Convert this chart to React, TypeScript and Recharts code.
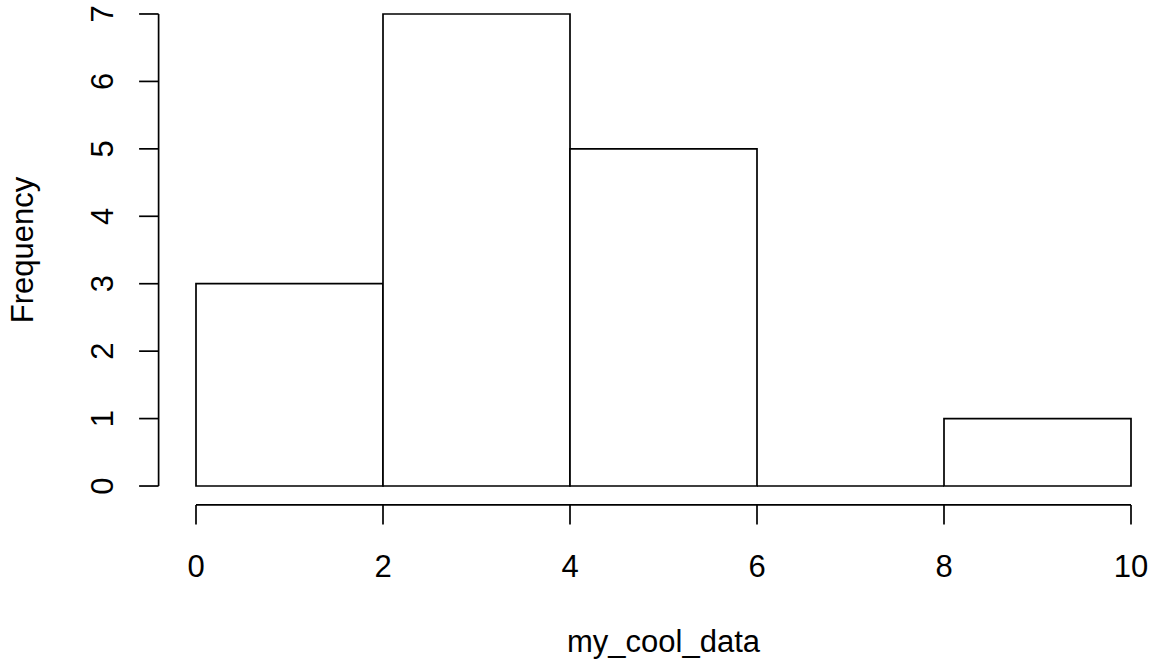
import { ComposedChart, Bar, XAxis, YAxis, ReferenceLine, Label } from "recharts";

// histogram bins (break points 0..10, width 2)
const binMids = [1, 3, 5, 7, 9];
const binCounts = [3, 7, 5, 0, 1];
const xTicks = [0, 2, 4, 6, 8, 10];
const yTicks = [0, 1, 2, 3, 4, 5, 6, 7];

const data = binMids.map((mid, i) => ({ mid, count: binCounts[i] }));

const FONT = "'Liberation Sans', Arial, Helvetica, sans-serif";
const FS = 31;
const INK = "#000";
const LW = 1.7;

// R-style box outline (also draws the zero-height bin as a line)
const HistRect = (props: any) => {
  const { x, y, width, height } = props;
  const d = `M${x},${y + height}H${x + width}V${y}H${x}Z`;
  return <path d={d} fill="#fff" stroke={INK} strokeWidth={LW} />;
};

const XTick = (props: any) => {
  const { x, y, payload } = props;
  return (
    <g>
      <line x1={x} y1={y} x2={x} y2={y + 19.5} stroke={INK} strokeWidth={LW} />
      <text x={x} y={y + 72} textAnchor="middle" fontSize={FS} fontFamily={FONT} fill={INK}>
        {payload.value}
      </text>
    </g>
  );
};

const YTick = (props: any) => {
  const { x, y, payload } = props;
  const tx = x - 45.6;
  return (
    <g>
      <line x1={x - 19.5} y1={y} x2={x} y2={y} stroke={INK} strokeWidth={LW} />
      <text
        x={tx}
        y={y}
        transform={`rotate(-90, ${tx}, ${y})`}
        textAnchor="middle"
        fontSize={FS}
        fontFamily={FONT}
        fill={INK}
      >
        {payload.value}
      </text>
    </g>
  );
};

export default function App() {
  return (
    <div style={{ position: "fixed", top: 0, left: 0, width: 1153, height: 659, background: "#fff" }}>
      <ComposedChart
        width={1153}
        height={659}
        data={data}
        barCategoryGap={0}
        barGap={0}
        margin={{ top: -4.9, right: -15.4, bottom: 54.1, left: 38.6 }}
      >
        <XAxis
          dataKey="mid"
          type="number"
          domain={[-0.4, 10.4]}
          ticks={xTicks}
          axisLine={false}
          tickLine={false}
          tickSize={0}
          tickMargin={0}
          height={100}
          tick={<XTick />}
          interval={0}
        >
          <Label
            content={({ viewBox }: any) => (
              <text
                x={viewBox.x + viewBox.width / 2}
                y={651.7}
                textAnchor="middle"
                fontSize={FS}
                fontFamily={FONT}
                fill={INK}
              >
                my_cool_data
              </text>
            )}
          />
        </XAxis>
        <YAxis
          type="number"
          domain={[-0.28, 7.28]}
          ticks={yTicks}
          axisLine={false}
          tickLine={false}
          tickSize={0}
          tickMargin={0}
          width={120}
          tick={<YTick />}
          interval={0}
        >
          <Label
            content={({ viewBox }: any) => {
              const cy = viewBox.y + viewBox.height / 2;
              return (
                <text
                  x={33}
                  y={cy}
                  transform={`rotate(-90, 33, ${cy})`}
                  textAnchor="middle"
                  fontSize={FS}
                  fontFamily={FONT}
                  fill={INK}
                >
                  Frequency
                </text>
              );
            }}
          />
        </YAxis>
        <ReferenceLine
          segment={[{ x: 0, y: -0.28 }, { x: 10, y: -0.28 }]}
          stroke={INK}
          strokeWidth={LW}
          ifOverflow="visible"
        />
        <ReferenceLine
          segment={[{ x: -0.4, y: 0 }, { x: -0.4, y: 7 }]}
          stroke={INK}
          strokeWidth={LW}
          ifOverflow="visible"
        />
        <Bar dataKey="count" shape={<HistRect />} isAnimationActive={false} />
      </ComposedChart>
    </div>
  );
}
